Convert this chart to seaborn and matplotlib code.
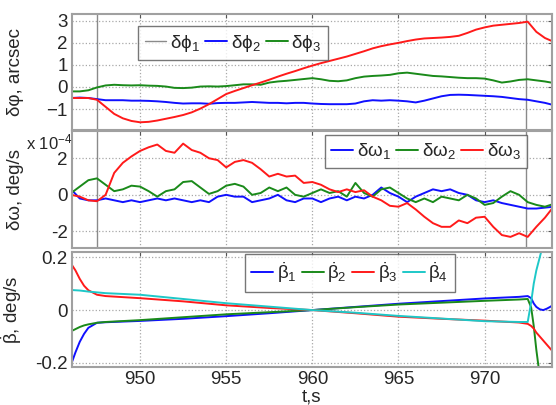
import numpy as np
import pandas as pd
import matplotlib
matplotlib.use("Agg")
import matplotlib.pyplot as plt
from matplotlib.ticker import FuncFormatter
import seaborn as sns

# ─────────────────────────────────────────────
# DATA
# ─────────────────────────────────────────────
t = np.arange(946.0, 974.01, 0.5)   # time grid, s

# δφ, arcsec
dphi_red = [-0.50, -0.50, -0.50, -0.58, -0.90, -1.22, -1.42, -1.54, -1.60, -1.58,
            -1.52, -1.44, -1.36, -1.27, -1.15, -0.98, -0.78, -0.55, -0.32, -0.18,
            -0.05, 0.08, 0.20, 0.33, 0.47, 0.60, 0.72, 0.85, 0.97, 1.08,
            1.18, 1.28, 1.38, 1.50, 1.62, 1.75, 1.85, 1.93, 2.00, 2.08,
            2.15, 2.20, 2.22, 2.24, 2.27, 2.32, 2.45, 2.60, 2.70, 2.78,
            2.82, 2.86, 2.90, 2.96, 2.50, 2.22, 2.05]
dphi_2 = [-0.50, -0.48, -0.50, -0.55, -0.60, -0.60, -0.60, -0.62, -0.62, -0.63,
          -0.65, -0.68, -0.72, -0.75, -0.74, -0.74, -0.76, -0.73, -0.72, -0.72,
          -0.70, -0.68, -0.70, -0.72, -0.72, -0.74, -0.72, -0.72, -0.75, -0.77,
          -0.78, -0.78, -0.78, -0.75, -0.65, -0.60, -0.62, -0.60, -0.62, -0.65,
          -0.70, -0.62, -0.52, -0.42, -0.36, -0.35, -0.36, -0.38, -0.40, -0.42,
          -0.45, -0.50, -0.55, -0.58, -0.65, -0.72, -0.82]
dphi_3 = [-0.20, -0.20, -0.15, -0.02, 0.07, 0.10, 0.08, 0.07, 0.08, 0.06,
          0.05, 0.02, -0.04, -0.05, -0.03, 0.02, 0.03, 0.02, 0.04, 0.08,
          0.12, 0.12, 0.10, 0.20, 0.25, 0.28, 0.32, 0.36, 0.40, 0.35,
          0.28, 0.26, 0.30, 0.40, 0.47, 0.50, 0.52, 0.55, 0.62, 0.65,
          0.60, 0.55, 0.50, 0.48, 0.45, 0.42, 0.40, 0.40, 0.38, 0.30,
          0.20, 0.25, 0.32, 0.35, 0.30, 0.25, 0.18]
t_marks = [947.5, 972.4]

# δω, 1e-4 deg/s
dw_1 = [0.3, -0.2, -0.3, -0.3, -0.2, -0.3, -0.4, -0.3, -0.4, -0.3,
        -0.2, -0.3, -0.2, -0.3, -0.4, -0.3, -0.4, -0.1, 0.0, -0.1,
        -0.1, -0.4, -0.3, -0.2, 0.0, -0.3, -0.4, -0.2, -0.2, -0.4,
        -0.2, -0.1, -0.3, -0.1, -0.2, 0.0, 0.4, 0.1, -0.1, -0.4,
        -0.1, 0.1, 0.3, 0.2, 0.3, 0.1, 0.0, -0.3, -0.4, -0.3,
        -0.45, -0.55, -0.65, -0.75, -0.75, -0.7, -0.65]
dw_2 = [0.1, 0.45, 0.8, 0.9, 0.55, 0.2, 0.3, 0.5, 0.45, 0.2,
        -0.1, 0.2, 0.3, 0.7, 0.75, 0.4, 0.05, 0.2, 0.5, 0.6,
        0.45, 0.0, 0.1, 0.4, 0.2, 0.4, 0.0, -0.1, 0.1, 0.3,
        0.1, 0.2, -0.1, 0.65, 0.1, -0.1, 0.3, 0.4, 0.1, -0.2,
        -0.4, -0.2, -0.4, -0.1, -0.2, -0.3, 0.0, -0.2, -0.55, -0.45,
        -0.1, 0.2, 0.0, -0.4, -0.55, -0.65, -0.5]
dw_3 = [0.0, -0.1, -0.3, -0.35, 0.0, 1.2, 1.75, 2.1, 2.4, 2.6,
        2.75, 2.4, 2.3, 2.8, 2.45, 2.3, 2.0, 1.9, 1.5, 1.8,
        1.9, 1.75, 1.4, 1.0, 1.15, 1.0, 1.05, 0.65, 0.7, 0.55,
        0.3, 0.15, 0.3, 0.15, 0.25, -0.1, -0.3, -0.6, -0.65, -0.45,
        -0.8, -1.2, -1.55, -1.75, -1.75, -1.4, -1.55, -1.25, -1.2, -1.75,
        -2.2, -2.3, -2.1, -2.3, -1.75, -1.25, -0.65]

# β-dot, deg/s
t_beta = [946.0, 946.25, 946.5, 946.75, 947.0, 947.5, 948.0, 950.0, 952.5, 955.0,
          957.5, 960.0, 962.5, 965.0, 967.5, 970.0, 972.0, 972.5, 972.7, 972.85,
          973.0, 973.2, 973.4, 973.6, 973.8, 974.0]
beta_1 = [-0.205, -0.16, -0.12, -0.09, -0.067, -0.048, -0.046, -0.041, -0.033, -0.023,
          -0.012, 0.0, 0.012, 0.024, 0.034, 0.044, 0.050, 0.053, 0.045, 0.025,
          0.012, 0.003, 0.000, 0.005, 0.012, 0.020]
beta_2 = [-0.080, -0.072, -0.064, -0.058, -0.054, -0.048, -0.045, -0.038, -0.027, -0.016,
          -0.008, 0.0, 0.011, 0.021, 0.028, 0.035, 0.040, 0.042, 0.010, -0.060,
          -0.150, -0.250, np.nan, np.nan, np.nan, np.nan]
beta_3 = [0.175, 0.150, 0.118, 0.092, 0.075, 0.058, 0.053, 0.045, 0.033, 0.018,
          0.008, 0.0, -0.012, -0.025, -0.033, -0.040, -0.047, -0.052, -0.060, -0.070,
          -0.085, -0.100, -0.115, -0.130, -0.145, -0.160]
beta_4 = [0.076, 0.075, 0.074, 0.072, 0.070, 0.067, 0.064, 0.058, 0.042, 0.026,
          0.013, 0.0, -0.010, -0.022, -0.032, -0.042, -0.045, -0.045, 0.030, 0.100,
          0.150, 0.200, 0.250, np.nan, np.nan, np.nan]

# ─────────────────────────────────────────────
# STYLE
# ─────────────────────────────────────────────
sns.set_style("white")
plt.rcParams['font.family'] = ['Liberation Sans', 'DejaVu Sans']
plt.rcParams['mathtext.fontset'] = 'custom'
plt.rcParams['mathtext.rm'] = 'Liberation Sans'
plt.rcParams['mathtext.it'] = 'Liberation Sans:italic'
plt.rcParams['mathtext.default'] = 'regular'

BLUE, GREEN, RED, CYAN, GRAY = '#1010ff', '#1a8a1a', '#ff1a1a', '#1ec8c8', '#8a8a8a'
FS = 13.5
LW = 1.4

fig = plt.figure(figsize=(5.56, 4.05), dpi=100)
ax1 = fig.add_axes([0.1295, 0.679, 0.863, 0.286])
ax2 = fig.add_axes([0.1295, 0.388, 0.863, 0.289], sharex=ax1)
ax3 = fig.add_axes([0.1295, 0.094, 0.863, 0.284], sharex=ax1)

# panel 1
for tm in t_marks:
    ax1.axvline(tm, color=GRAY, lw=1.0, label='δϕ$_1$' if tm == t_marks[0] else None)
sns.lineplot(x=t, y=dphi_2, ax=ax1, color=BLUE, lw=LW, label='δϕ$_2$')
sns.lineplot(x=t, y=dphi_3, ax=ax1, color=GREEN, lw=LW, label='δϕ$_3$')
sns.lineplot(x=t, y=dphi_red, ax=ax1, color=RED, lw=LW)
ax1.set_ylim(-1.95, 3.3)
ax1.set_yticks([-1, 0, 1, 2, 3])
ax1.set_ylabel('δφ, arcsec', fontsize=FS)

# panel 2
for tm in t_marks:
    ax2.axvline(tm, color=GRAY, lw=1.0)
dw = pd.DataFrame({'t': t, 'w1': np.array(dw_1) * 1e-4,
                   'w2': np.array(dw_2) * 1e-4, 'w3': np.array(dw_3) * 1e-4})
sns.lineplot(data=dw, x='t', y='w1', ax=ax2, color=BLUE, lw=LW, label='δω$_1$')
sns.lineplot(data=dw, x='t', y='w2', ax=ax2, color=GREEN, lw=LW, label='δω$_2$')
sns.lineplot(data=dw, x='t', y='w3', ax=ax2, color=RED, lw=LW, label='δω$_3$')
ax2.set_ylim(-2.9e-4, 3.5e-4)
ax2.set_yticks([-2e-4, 0, 2e-4])
ax2.yaxis.set_major_formatter(FuncFormatter(lambda v, p: f"{v * 1e4:g}"))
ax2.set_ylabel('δω, deg/s', fontsize=FS)
ax2.text(-0.095, 0.985, r'x 10$^{-4}$', transform=ax2.transAxes,
         fontsize=12, ha='left', va='top')

# panel 3
for y, c, n in [(beta_1, BLUE, 1), (beta_2, GREEN, 2), (beta_3, RED, 3), (beta_4, CYAN, 4)]:
    ax3.plot(t_beta, y, color=c, lw=LW, label=r'$\dot{\beta}_%d$' % n)
ax3.set_ylim(-0.215, 0.22)
ax3.set_yticks([-0.2, 0, 0.2])
ax3.yaxis.set_major_formatter(FuncFormatter(lambda v, p: f"{v:g}"))
ax3.set_ylabel(r'$\dot{\beta}$, deg/s', fontsize=FS)
ax3.set_xlabel('t,s', fontsize=FS, labelpad=0)

ax1.set_xlim(946.05, 973.9)
ax1.set_xticks([950, 955, 960, 965, 970])

for ax in (ax1, ax2, ax3):
    ax.grid(True, ls=':', color='#a8a8a8', lw=0.9)
    ax.tick_params(direction='in', top=True, right=True, length=3,
                   labelsize=FS, pad=3, color='#555555')
    for s in ax.spines.values():
        s.set_color('#a0a0a0')
        s.set_linewidth(1.5)
    ax.yaxis.set_label_coords(-0.1, 0.5)
for ax in (ax1, ax2):
    ax.tick_params(labelbottom=False)
    ax.set_xlabel('')

# legends: one per panel, boxed, in a single row
leg_kw = dict(ncol=4, fontsize=FS, frameon=True, fancybox=False, handlelength=1.15,
              handletextpad=0.2, columnspacing=0.3, borderpad=0.35, borderaxespad=0)
for ax, anchor in [(ax1, (0.1375, 0.897)), (ax2, (0.527, 0.966)), (ax3, (0.36, 0.983))]:
    leg = ax.legend(loc='upper left', bbox_to_anchor=anchor, **leg_kw)
    leg.get_frame().set_edgecolor('#555555')
    leg.get_frame().set_linewidth(1.0)

fig.savefig("out.png", dpi=100)
